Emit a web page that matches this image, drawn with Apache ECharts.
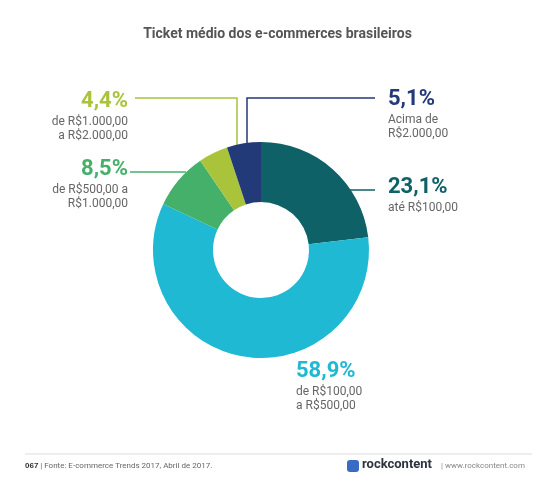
<!DOCTYPE html><html><head><meta charset="utf-8">
<script src="https://cdn.jsdelivr.net/npm/echarts@6/dist/echarts.min.js"></script>
<style>body{margin:0;background:#fff}#c{width:555px;height:500px}</style></head><body><div id="c"></div>
<script>
const categories=['até R$100,00','de R$100,00\na R$500,00','de R$500,00 a\nR$1.000,00','de R$1.000,00\na R$2.000,00','Acima de\nR$2.000,00'];
const values=[23.1,58.9,8.5,4.4,5.1];
const pctLabels=['23,1%','58,9%','8,5%','4,4%','5,1%'];
const colors=['#0e6166','#1fb9d4','#45b069','#a9c43b','#233a78'];
const F='Roboto, sans-serif';
const chart=echarts.init(document.getElementById('c'));
const lab=(x,y,i,col,align)=>[
 {type:'text',left:undefined,x:x,y:y,style:{text:pctLabels[i],fill:col,font:'bold 22px '+F,textAlign:align}},
 {type:'text',x:x,y:y+25,style:{text:categories[i],fill:'#666',font:'12px '+F,textAlign:align,lineHeight:14}}];
const line=(pts,col)=>({type:'polyline',shape:{points:pts},style:{stroke:col,lineWidth:1.5,fill:null}});
chart.setOption({
 title:{text:'Ticket médio dos e-commerces brasileiros',left:'center',top:22,textStyle:{fontFamily:F,fontSize:14,fontWeight:'bold',color:'#555'}},
 series:[{type:'pie',center:[261,250],radius:[48,108],startAngle:90,clockwise:true,label:{show:false},labelLine:{show:false},silent:true,
  data:values.map((v,i)=>({value:v,name:categories[i],itemStyle:{color:colors[i]}}))}],
 graphic:[
  ...lab(128,90,3,colors[3],'right'),
  ...lab(128,158,2,colors[2],'right'),
  ...lab(388,88,4,colors[4],'left'),
  ...lab(388,176,0,colors[0],'left'),
  ...lab(296,360,1,colors[1],'left'),
  line([[135,98],[237,98],[237,146]],colors[3]),
  line([[247,146],[247,98],[375,98]],colors[4]),
  line([[340,190],[375,190]],colors[0]),
  line([[130,172],[186,172]],colors[2]),
  {type:'line',shape:{x1:25,y1:454,x2:532,y2:454},style:{stroke:'#ddd',lineWidth:1}},
  {type:'text',x:25,y:462,style:{text:'{b|067} | Fonte: E-commerce Trends 2017, Abril de 2017.',font:'8px '+F,fill:'#666',rich:{b:{fontWeight:'bold',fontSize:8,fill:'#333'}}}},
  {type:'rect',shape:{x:347,y:460,width:12,height:12,r:3},style:{fill:'#3a6bc4'}},
  {type:'text',x:362,y:458,style:{text:'rockcontent',font:'bold 13px '+F,fill:'#2d3440'}},
  {type:'text',x:441,y:462,style:{text:'| www.rockcontent.com',font:'8px '+F,fill:'#888'}}
 ]});
</script></body></html>
